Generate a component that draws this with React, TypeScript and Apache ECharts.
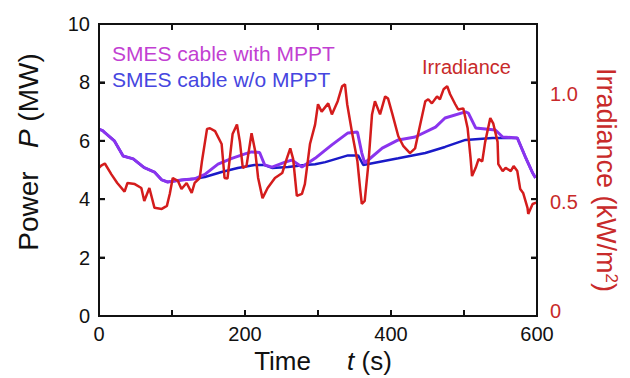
import React, { useEffect, useRef } from "react";
import * as echarts from "echarts";

// Time (s) samples and power (MW) of the SMES cable with MPPT
const timeWith = [0, 5, 8, 21, 33, 47, 62, 76, 86, 94, 113, 131, 145, 163, 182, 200, 209, 220, 227, 237, 255, 264, 278, 296, 310, 319, 341, 354, 360, 364, 388, 410, 433, 461, 474, 502, 506, 516, 543, 553, 573, 584, 594, 598];
const powerWith = [6.4, 6.35, 6.28, 6.0, 5.48, 5.38, 5.08, 4.93, 4.66, 4.59, 4.66, 4.7, 4.85, 5.2, 5.4, 5.55, 5.62, 5.6, 5.17, 5.1, 5.27, 5.34, 5.1, 5.4, 5.68, 5.86, 6.27, 6.3, 5.58, 5.24, 5.75, 6.03, 6.13, 6.47, 6.78, 6.99, 6.95, 6.44, 6.37, 6.13, 6.1, 5.45, 4.9, 4.73];

// Time (s) samples and power (MW) of the SMES cable without MPPT
const timeWo = [0, 5, 8, 21, 33, 47, 62, 76, 86, 94, 113, 131, 145, 168, 190, 213, 227, 237, 259, 282, 296, 310, 341, 355, 362, 410, 447, 474, 502, 539, 553, 573, 584, 594, 598];
const powerWo = [6.4, 6.35, 6.28, 6.0, 5.48, 5.38, 5.08, 4.93, 4.66, 4.59, 4.66, 4.7, 4.76, 4.93, 5.07, 5.17, 5.17, 5.07, 5.1, 5.17, 5.2, 5.27, 5.5, 5.5, 5.17, 5.4, 5.58, 5.79, 6.03, 6.1, 6.1, 6.1, 5.45, 4.9, 4.73];

// Time (s) samples and irradiance (kW/m2)
const timeIrr = [0, 3, 8, 17, 25, 35, 39, 49, 58, 62, 69, 76, 86, 93, 97, 101, 108, 113, 120, 127, 131, 138, 141, 148, 152, 159, 168, 172, 176, 183, 189, 193, 197, 202, 209, 214, 218, 224, 231, 241, 251, 257, 262, 266, 271, 278, 282, 289, 296, 300, 305, 314, 319, 327, 333, 337, 340, 347, 354, 358, 360, 364, 369, 374, 378, 385, 392, 396, 402, 410, 417, 426, 433, 440, 447, 451, 456, 463, 467, 472, 477, 481, 488, 492, 499, 505, 509, 511, 516, 520, 525, 529, 536, 540, 546, 547, 553, 557, 564, 568, 573, 577, 581, 587, 588, 594, 598, 600];
const irradiance = [0.66, 0.67, 0.68, 0.63, 0.59, 0.55, 0.59, 0.585, 0.567, 0.507, 0.567, 0.475, 0.47, 0.484, 0.54, 0.613, 0.6, 0.562, 0.59, 0.544, 0.59, 0.613, 0.69, 0.84, 0.843, 0.83, 0.77, 0.613, 0.61, 0.816, 0.86, 0.78, 0.66, 0.668, 0.82, 0.737, 0.613, 0.52, 0.567, 0.613, 0.636, 0.7, 0.75, 0.7, 0.53, 0.54, 0.585, 0.77, 0.86, 0.954, 0.92, 0.958, 0.907, 0.968, 1.037, 1.046, 0.954, 0.816, 0.69, 0.553, 0.493, 0.507, 0.677, 0.907, 0.968, 0.907, 0.99, 0.98, 0.907, 0.806, 0.76, 0.728, 0.75, 0.86, 0.968, 0.977, 0.958, 0.99, 0.977, 1.023, 1.037, 1.0, 0.954, 0.93, 0.935, 0.843, 0.705, 0.622, 0.66, 0.7, 0.69, 0.78, 0.89, 0.866, 0.78, 0.677, 0.645, 0.66, 0.645, 0.668, 0.645, 0.562, 0.544, 0.475, 0.447, 0.493, 0.498, 0.5];

const xTicks = [0, 200, 400, 600];
const xMinorTicks = [100, 200, 300, 400, 500];
const powerTicks = [2, 4, 6, 8];
const irrTicks = [0, 0.5, 1.0];

const NAME_WITH = "SMES cable with MPPT";
const NAME_WO = "SMES cable w/o MPPT";
const NAME_IRR = "Irradiance";

const pairs = (xs: number[], ys: number[]) => {
  const n = Math.min(xs.length, ys.length);
  const out: number[][] = [];
  for (let i = 0; i < n; i++) out.push([xs[i], ys[i]]);
  return out;
};

const FONT = "'Liberation Sans', Arial, Helvetica, sans-serif";
const BLACK = "#111111";
const RED = "#d41c1c";
const RED_TEXT = "#c82a2a";

export default function App() {
  const ref = useRef<HTMLDivElement>(null);
  useEffect(() => {
    if (!ref.current) return;
    const chart = echarts.init(ref.current, null, { renderer: "svg" });
    const axisLine = () => ({ show: true, onZero: false, lineStyle: { color: BLACK, width: 2 } });
    const tickIn = () => ({ show: true, inside: true, length: 6, lineStyle: { color: BLACK, width: 2 } });
    const tok = (size: number, fill: string, italic = false) => ({
      fontSize: size,
      fontFamily: FONT,
      fill,
      fontStyle: italic ? "italic" : "normal",
    });
    const titles: any[] = [
      {
        id: "tLeft",
        type: "text",
        x: 28,
        y: 152,
        rotation: Math.PI / 2,
        silent: true,
        style: {
          text: "{n|Power}   {i|P} {n|(MW)}",
          align: "center",
          verticalAlign: "middle",
          fill: BLACK,
          fontSize: 28,
          fontFamily: FONT,
          rich: { n: tok(28, BLACK), i: tok(28, BLACK, true) },
        },
      },
      {
        id: "tBottom",
        type: "text",
        x: 323,
        y: 361,
        silent: true,
        style: {
          text: "{n|Time}     {i|t} {n|(s)}",
          align: "center",
          verticalAlign: "middle",
          fill: BLACK,
          fontSize: 26,
          fontFamily: FONT,
          rich: { n: tok(26, BLACK), i: tok(26, BLACK, true) },
        },
      },
      {
        id: "tRight",
        type: "text",
        x: 606,
        y: 180,
        rotation: -Math.PI / 2,
        silent: true,
        style: {
          text: "{n|Irradiance (kW/m}{s|2}{n|)}",
          align: "center",
          verticalAlign: "middle",
          fill: RED_TEXT,
          fontSize: 27,
          fontFamily: FONT,
          rich: {
            n: tok(27, RED_TEXT),
            s: { ...tok(17, RED_TEXT), verticalAlign: "top" },
          },
        },
      },
    ];
    chart.setOption({
      animation: false,
      backgroundColor: "#ffffff",
      textStyle: { fontFamily: FONT },
      grid: { left: 99, right: 93, top: 24, bottom: 62 },
      legend: [
        {
          left: 107,
          top: 43,
          orient: "vertical",
          padding: 0,
          itemGap: 5,
          itemWidth: 0,
          itemHeight: 20,
          icon: "none",
          selectedMode: false,
          textStyle: { fontSize: 21, fontFamily: FONT },
          data: [
            { name: NAME_WITH, textStyle: { color: "#c23fd2" } },
            { name: NAME_WO, textStyle: { color: "#4646e0" } },
          ],
        },
        {
          left: 417,
          top: 57,
          padding: 0,
          itemWidth: 0,
          itemHeight: 20,
          icon: "none",
          selectedMode: false,
          textStyle: { fontSize: 20, fontFamily: FONT },
          data: [{ name: NAME_IRR, textStyle: { color: RED_TEXT } }],
        },
      ],
      graphic: titles,
      xAxis: [
        {
          type: "value",
          position: "bottom",
          min: 0,
          max: 600,
          interval: 100,
          axisLine: axisLine(),
          axisTick: tickIn(),
          splitLine: { show: false },
          axisLabel: {
            color: BLACK,
            fontSize: 20,
            margin: 8,
            fontFamily: FONT,
            formatter: (v: number) => (xTicks.includes(v) ? String(v) : ""),
          },
        },
        {
          type: "value",
          position: "top",
          min: 0,
          max: 600,
          interval: 100,
          axisLine: axisLine(),
          axisTick: tickIn(),
          axisLabel: { show: false },
          splitLine: { show: false },
        },
      ],
      yAxis: [
        {
          type: "value",
          position: "left",
          min: 0,
          max: 10,
          interval: 2,
          axisLine: axisLine(),
          axisTick: tickIn(),
          splitLine: { show: false },
          axisLabel: { color: BLACK, fontSize: 20, margin: 9, fontFamily: FONT },
        },
        {
          type: "value",
          position: "right",
          min: -0.025,
          max: 1.325,
          interval: 0.025,
          axisLine: axisLine(),
          axisTick: { show: false },
          splitLine: { show: false },
          axisLabel: {
            color: RED_TEXT,
            fontSize: 20,
            margin: 13,
            fontFamily: FONT,
            formatter: (v: number) => {
              const hit = irrTicks.find((t) => Math.abs(t - v) < 1e-6);
              if (hit === undefined) return "";
              return hit === 0 ? "0" : hit.toFixed(1);
            },
          },
        },
        {
          type: "value",
          position: "right",
          min: 0,
          max: 10,
          interval: 2,
          axisLine: axisLine(),
          axisTick: tickIn(),
          axisLabel: { show: false },
          splitLine: { show: false },
        },
      ],
      series: [
        {
          name: NAME_WO,
          type: "line",
          xAxisIndex: 1,
          yAxisIndex: 2,
          data: pairs(timeWo, powerWo),
          showSymbol: false,
          symbol: "none",
          lineStyle: { color: "#1a1ac8", width: 2.5 },
          itemStyle: { color: "#1a1ac8" },
        },
        {
          name: NAME_WITH,
          type: "line",
          xAxisIndex: 0,
          yAxisIndex: 0,
          data: pairs(timeWith, powerWith),
          showSymbol: false,
          symbol: "none",
          lineStyle: { color: "#8a34ee", width: 3 },
          itemStyle: { color: "#8a34ee" },
        },
        {
          name: NAME_IRR,
          type: "line",
          xAxisIndex: 0,
          yAxisIndex: 1,
          data: pairs(timeIrr, irradiance),
          showSymbol: false,
          symbol: "none",
          lineStyle: { color: RED, width: 2.5 },
          itemStyle: { color: RED },
        },
      ],
    });

    // Frame and inward ticks on all four sides, positioned through the chart's own scales.
    try {
      const finder = { xAxisIndex: 0, yAxisIndex: 0 };
      const tl = chart.convertToPixel(finder, [0, 10]) as number[];
      const br = chart.convertToPixel(finder, [600, 0]) as number[];
      if (tl && br && isFinite(tl[0]) && isFinite(br[1])) {
        const [x0, y0] = tl;
        const [x1, y1] = br;
        const ls = { stroke: BLACK, lineWidth: 2 };
        const extra: any[] = [
          {
            id: "frame",
            type: "rect",
            silent: true,
            z: 50,
            shape: { x: x0, y: y0, width: x1 - x0, height: y1 - y0 },
            style: { fill: "none", stroke: BLACK, lineWidth: 2 },
          },
        ];
        xMinorTicks.forEach((t) => {
          const px = (chart.convertToPixel(finder, [t, 0]) as number[])[0];
          extra.push({ id: "tb" + t, type: "line", silent: true, z: 50, shape: { x1: px, y1: y1, x2: px, y2: y1 - 6 }, style: ls });
          extra.push({ id: "tt" + t, type: "line", silent: true, z: 50, shape: { x1: px, y1: y0, x2: px, y2: y0 + 6 }, style: ls });
        });
        powerTicks.forEach((p) => {
          const py = (chart.convertToPixel(finder, [0, p]) as number[])[1];
          extra.push({ id: "tl" + p, type: "line", silent: true, z: 50, shape: { x1: x0, y1: py, x2: x0 + 6, y2: py }, style: ls });
          extra.push({ id: "tr" + p, type: "line", silent: true, z: 50, shape: { x1: x1, y1: py, x2: x1 - 6, y2: py }, style: ls });
        });
        chart.setOption({ graphic: [...titles, ...extra] });
      }
    } catch (e) {
      // keep the chart as drawn
    }
    return () => chart.dispose();
  }, []);
  return (
    <div
      ref={ref}
      style={{ position: "fixed", left: 0, top: 0, width: 630, height: 378, background: "#fff" }}
    />
  );
}
